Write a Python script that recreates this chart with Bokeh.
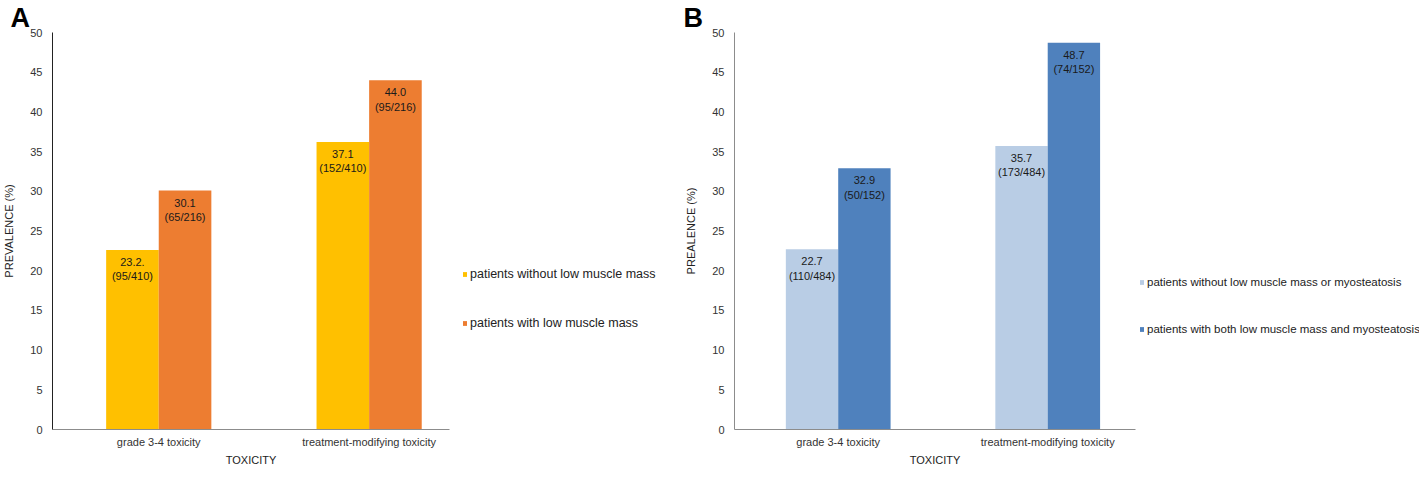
from bokeh.plotting import figure
from bokeh.layouts import row
from bokeh.models import ColumnDataSource, Legend, LegendItem, FixedTicker, Range1d
from bokeh.embed import file_html
from bokeh.resources import INLINE
from bokeh.core.properties import value

FONT = "Liberation Sans"

# ---- data ----
categories = ["grade 3-4 toxicity", "treatment-modifying toxicity"]
y_ticks = [0, 5, 10, 15, 20, 25, 30, 35, 40, 45, 50]

# Panel A
a_series = ["patients without low muscle mass", "patients with low muscle mass"]
a_without = [22.6, 36.2]
a_with = [30.1, 44.0]
a_without_labels = ["23.2.\n(95/410)", "37.1\n(152/410)"]
a_with_labels = ["30.1\n(65/216)", "44.0\n(95/216)"]
a_colors = ["#FFC000", "#ED7D31"]

# Panel B
b_series = ["patients without low muscle mass or myosteatosis",
            "patients with both low muscle mass and myosteatosis"]
b_without = [22.7, 35.7]
b_with = [32.9, 48.7]
b_without_labels = ["22.7\n(110/484)", "35.7\n(173/484)"]
b_with_labels = ["32.9\n(50/152)", "48.7\n(74/152)"]
b_colors = ["#B9CDE5", "#4F81BD"]

HEIGHT = 468
POS = [1, 2]


def sources(v1, v2, l1, l2):
    s1 = ColumnDataSource(dict(x=[q - 0.125 for q in POS], top=v1, label=l1))
    s2 = ColumnDataSource(dict(x=[q + 0.125 for q in POS], top=v2, label=l2))
    return s1, s2


def make_panel(letter, ylabel, srcs, colors, width, x_start, x_end, b_left, yaxis_color):
    p = figure(width=width, height=HEIGHT, output_backend="svg", toolbar_location=None,
               x_range=Range1d(x_start, x_end), y_range=Range1d(0, 50),
               min_border_left=b_left, min_border_top=0, min_border_right=3,
               min_border_bottom=0, title=letter)
    p.title.text_font = FONT
    p.title.text_font_size = "27px"
    p.title.text_font_style = "bold"
    p.title.text_color = "#000000"
    p.title.align = "left"
    p.title.offset = -b_left
    p.title.standoff = 0
    p.outline_line_color = None
    p.xgrid.grid_line_color = None
    p.ygrid.grid_line_color = None

    for s, c in zip(srcs, colors):
        p.vbar(x="x", top="top", width=0.25, source=s, fill_color=c, line_color=None)
    for s in srcs:
        p.text(x="x", y="top", text="label", source=s, text_align="center",
               text_baseline="top", y_offset=6, text_font=value(FONT),
               text_font_size="11px", text_color="#1a1a1a", text_line_height=1.2)

    # axes
    p.xaxis.ticker = FixedTicker(ticks=POS)
    p.xaxis.major_label_overrides = {1: categories[0], 2: categories[1]}
    p.xaxis.axis_label = "TOXICITY"
    p.yaxis.ticker = FixedTicker(ticks=y_ticks)
    p.yaxis.axis_label = ylabel
    for ax in (p.xaxis[0], p.yaxis[0]):
        ax.major_tick_line_color = None
        ax.minor_tick_line_color = None
        ax.major_tick_out = 0
        ax.major_tick_in = 0
        ax.minor_tick_out = 0
        ax.minor_tick_in = 0
        ax.major_label_text_font = FONT
        ax.major_label_text_font_size = "11px"
        ax.major_label_text_color = "#333333"
        ax.axis_label_text_font = FONT
        ax.axis_label_text_font_size = "11px"
        ax.axis_label_text_font_style = "normal"
        ax.axis_label_text_color = "#222222"
    p.xaxis.axis_line_color = "#8c8c8c"
    p.yaxis.axis_line_color = yaxis_color
    p.xaxis.major_label_standoff = 6
    p.xaxis.axis_label_standoff = 3
    p.yaxis.major_label_standoff = 10
    p.yaxis.axis_label_standoff = 12
    return p


def make_legend(series, srcs, colors, width, loc, font_size):
    # the legend sits in its own narrow panel; its key renderers share the
    # panel data but are hidden, so only the legend swatches are drawn
    q = figure(width=width, height=HEIGHT, output_backend="svg", toolbar_location=None,
               x_range=Range1d(0, 3), y_range=Range1d(0, 50),
               x_axis_type=None, y_axis_type=None,
               min_border_left=0, min_border_right=0, min_border_top=0, min_border_bottom=0)
    q.outline_line_color = None
    q.xgrid.grid_line_color = None
    q.ygrid.grid_line_color = None
    keys = [q.vbar(x="x", top="top", width=0.25, source=s, fill_color=c, line_color=None,
                   visible=False)
            for s, c in zip(srcs, colors)]
    legend = Legend(items=[LegendItem(label=series[0], renderers=[keys[0]]),
                           LegendItem(label=series[1], renderers=[keys[1]])],
                    location=loc, spacing=35, glyph_width=5, glyph_height=6,
                    label_standoff=3, label_text_font=FONT, label_text_font_size=font_size,
                    label_text_color="#222222", border_line_color=None,
                    background_fill_alpha=0, padding=0, margin=0, click_policy="none")
    q.add_layout(legend)
    return q


a_src = sources(a_without, a_with, a_without_labels, a_with_labels)
b_src = sources(b_without, b_with, b_without_labels, b_with_labels)

pa = make_panel("A", "PREVALENCE (%)", a_src, a_colors, 452, 0.495, 2.382, 42, "#222222")
la = make_legend(a_series, a_src, a_colors, 230, (10, 99), "12.5px")
pb = make_panel("B", "PREALENCE (%)", b_src, b_colors, 456, 0.505, 2.419, 51, "#8c8c8c")
lb = make_legend(b_series, b_src, b_colors, 281, (1, 94), "11.5px")

layout = row(pa, la, pb, lb)
open("out.html", "w").write(file_html(layout, INLINE))
